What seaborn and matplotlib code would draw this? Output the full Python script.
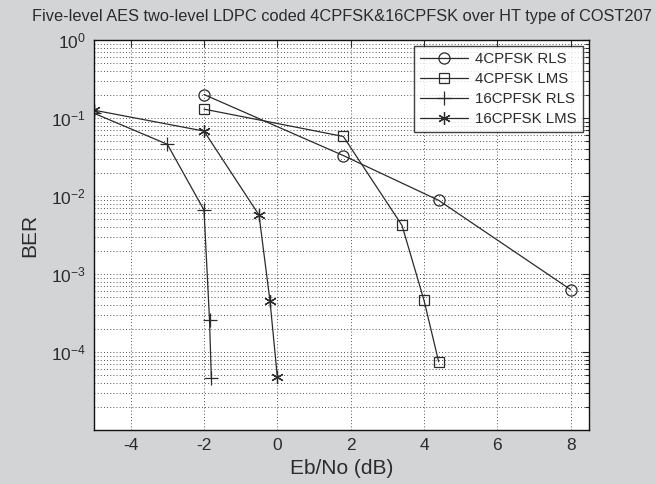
import numpy as np
import pandas as pd
import matplotlib
matplotlib.use("Agg")
import matplotlib.pyplot as plt
import seaborn as sns
from matplotlib.ticker import LogLocator, FixedLocator, NullFormatter

# --- Data ---
x_4rls = [-2, 1.8, 4.4, 8]
y_4rls = [0.20, 0.033, 0.0088, 6.3e-4]

x_4lms = [-2, 1.8, 3.4, 4.0, 4.4]
y_4lms = [0.13, 0.058, 0.0042, 4.6e-4, 7.5e-5]

x_16rls = [-5, -3, -2, -1.85, -1.8]
y_16rls = [0.115, 0.046, 0.0066, 2.6e-4, 4.6e-5]

x_16lms = [-5, -2, -0.5, -0.2, 0.0]
y_16lms = [0.126, 0.068, 0.0057, 4.5e-4, 4.8e-5]

labels = ["4CPFSK RLS", "4CPFSK LMS", "16CPFSK RLS", "16CPFSK LMS"]
markers = ["o", "s", "+", (6, 2, 0)]
sizes = [8, 7, 10, 9]

# --- Style ---
sns.set_theme(style="white")
plt.rcParams["font.family"] = ["Liberation Sans", "DejaVu Sans"]
plt.rcParams["mathtext.default"] = "regular"
plt.rcParams["axes.unicode_minus"] = False

bg = "#d3d4d6"
ink = "#2b2b2b"

fig = plt.figure(figsize=(6.56, 4.84), dpi=100, facecolor=bg)
ax = fig.add_axes([94 / 656, 1 - 430 / 484, (589 - 94) / 656, (430 - 40) / 484])
ax.set_facecolor("white")

series = [(x_4rls, y_4rls), (x_4lms, y_4lms), (x_16rls, y_16rls), (x_16lms, y_16lms)]
for (xs, ys), lab, mk, ms in zip(series, labels, markers, sizes):
    sns.lineplot(x=xs, y=ys, ax=ax, color=ink, linewidth=0.9, marker=mk,
                 markersize=ms, markerfacecolor="none", markeredgecolor=ink,
                 markeredgewidth=0.9, label=lab, sort=False)

ax.set_yscale("log")
ax.set_xlim(-5, 8.5)
ax.set_ylim(1e-5, 1)
ax.xaxis.set_major_locator(FixedLocator([-4, -2, 0, 2, 4, 6, 8]))
ax.yaxis.set_major_locator(FixedLocator([1e-4, 1e-3, 1e-2, 1e-1, 1e0]))
ax.yaxis.set_minor_locator(LogLocator(base=10, subs=np.arange(2, 10), numticks=20))
ax.yaxis.set_minor_formatter(NullFormatter())
ax.set_yticklabels(["$10^{-4}$", "$10^{-3}$", "$10^{-2}$", "$10^{-1}$", "$10^{0}$"])

grid_kw = dict(color="#3a3a3a", linestyle=(0, (1, 2.5)), linewidth=0.65)
ax.grid(True, which="major", axis="both", **grid_kw)
ax.grid(True, which="minor", axis="y", **grid_kw)

ax.tick_params(which="both", direction="in", top=True, right=True,
               colors=ink, labelsize=12.5, width=0.8)
ax.tick_params(which="major", length=5, pad=6)
ax.tick_params(which="minor", length=3)
for sp in ax.spines.values():
    sp.set_color("#111111")
    sp.set_linewidth(1.0)

ax.set_xlabel("Eb/No (dB)", fontsize=15, color=ink)
ax.set_ylabel("BER", fontsize=15, color=ink, labelpad=8)
ax.set_title("Five-level AES two-level LDPC coded 4CPFSK&16CPFSK over HT type of COST207",
             fontsize=11.8, color=ink, pad=14)

leg = ax.legend(loc="upper right", fontsize=10.8, frameon=True, fancybox=False,
                edgecolor="#111111", handlelength=3.2, labelspacing=0.4,
                borderaxespad=0.4, handletextpad=0.5, borderpad=0.4)
leg.get_frame().set_linewidth(1.0)
for t in leg.get_texts():
    t.set_color(ink)

fig.savefig("out.png", dpi=100, facecolor=bg)
